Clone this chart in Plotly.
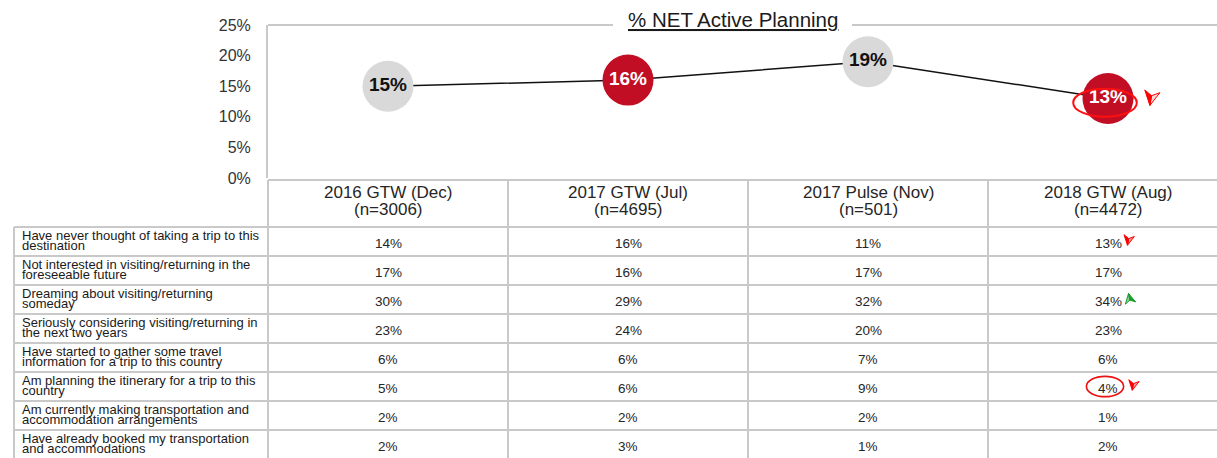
import math
import plotly.graph_objects as go

# ---------------- data ----------------
waves = ["2016 GTW (Dec)", "2017 GTW (Jul)", "2017 Pulse (Nov)", "2018 GTW (Aug)"]
sample_sizes = ["(n=3006)", "(n=4695)", "(n=501)", "(n=4472)"]
net_active = [15, 16, 19, 13]
bubble_colors = ["#d9d9d9", "#c20e25", "#d9d9d9", "#c20e25"]
bubble_text_colors = ["#111111", "#ffffff", "#111111", "#ffffff"]

row_labels_line1 = [
    "Have never thought of taking a trip to this",
    "Not interested in visiting/returning in the",
    "Dreaming about visiting/returning",
    "Seriously considering visiting/returning in",
    "Have started to gather some travel",
    "Am planning the itinerary for a trip to this",
    "Am currently making transportation and",
    "Have already booked my transportation",
]
row_labels_line2 = [
    "destination",
    "foreseeable future",
    "someday",
    "the next two years",
    "information for a trip to this country",
    "country",
    "accommodation arrangements",
    "and accommodations",
]
vals_2016_dec = [14, 17, 30, 23, 6, 5, 2, 2]
vals_2017_jul = [16, 16, 29, 24, 6, 6, 2, 3]
vals_2017_nov = [11, 17, 32, 20, 7, 9, 2, 1]
vals_2018_aug = [13, 17, 34, 23, 6, 4, 1, 2]
table_columns = [vals_2016_dec, vals_2017_jul, vals_2017_nov, vals_2018_aug]

# significance flags for the last wave (row index -> direction)
sig_rows_down = [0, 5]
sig_rows_up = [2]
circled_rows = [5]
chart_sig_down = [3]   # index in net_active

# ---------------- layout geometry ----------------
W, H = 1217, 458
COL_PX = 240.0          # width of one wave column
PLOT_LEFT = 268.0       # left edge of first wave column
PLOT_TOP, PLOT_BOTTOM = 25.0, 178.0
ROW_PX = 29.0
FIRST_ROW_TOP = 227.0
HEADER_TOP = 180.0
LABEL_LEFT = 14.0

GRID = "#c9c9c9"
TXT = "#262626"
FONT = "Liberation Sans, Arial, sans-serif"
NARROW = "Liberation Sans Narrow, Arial Narrow, Liberation Sans, Arial, sans-serif"


def colx(px):
    return (px - PLOT_LEFT) / COL_PX - 0.5


def rowy(px):
    return (px - FIRST_ROW_TOP) / ROW_PX - 0.5


x_right = colx(W)
x_left = colx(0)
n_cols = len(waves)
n_rows = len(row_labels_line1)

shapes = []
annotations = []


def arrow_shapes(xref, yref, xa, ya, scale, angle_deg, color, light):
    """Notched arrowhead, two-tone, drawn in pixel units around an anchor."""
    left = [(0, 7), (-7, -6), (0, -2)]
    right = [(0, 7), (0, -2), (7, -6)]
    a = math.radians(angle_deg)

    def rot(p):
        x, y = p[0] * scale, p[1] * scale
        return (x * math.cos(a) + y * math.sin(a), -x * math.sin(a) + y * math.cos(a))

    out = []
    for pts, fill in ((left, light), (right, color)):
        rp = [rot(p) for p in pts]
        path = "M" + " L".join(f"{x:.2f},{y:.2f}" for x, y in rp) + " Z"
        out.append(dict(type="path", xref=xref, yref=yref, xsizemode="pixel",
                        ysizemode="pixel", xanchor=xa, yanchor=ya, path=path,
                        fillcolor=fill, line=dict(color=color, width=1), layer="above"))
    return out


fig = go.Figure()

# line + bubbles
fig.add_trace(go.Scatter(
    x=list(range(n_cols)), y=net_active,
    mode="lines+markers+text",
    line=dict(color="#111111", width=1.5),
    marker=dict(size=51, color=bubble_colors, line=dict(width=0)),
    text=[f"<b>{v}%</b>" for v in net_active],
    textposition="middle center",
    textfont=dict(family=FONT, size=19, color=bubble_text_colors),
    hoverinfo="skip", showlegend=False, cliponaxis=False,
    xaxis="x", yaxis="y",
))

# chart ellipse + arrow around flagged bubble
for i in chart_sig_down:
    shapes.append(dict(type="circle", xref="x", yref="y",
                       x0=i - 0.145, x1=i + 0.12,
                       y0=net_active[i] - 3.0, y1=net_active[i] + 1.6,
                       line=dict(color="#ff1010", width=2)))
    shapes += arrow_shapes("x", "y", i + 0.18, net_active[i] + 0.1, 1.1, 190, "#ff0000", "#ffd6d6")

# title with broken top border
title_cx = 733.0
annotations.append(dict(text="<u>% NET Active Planning</u>", xref="paper", yref="paper",
                        x=title_cx / W, y=1 - 20.0 / H, showarrow=False,
                        xanchor="center", yanchor="middle",
                        font=dict(family=FONT, size=20.5, color="#1a1a1a")))
top_y = 1 - PLOT_TOP / H
shapes.append(dict(type="line", xref="paper", yref="paper", x0=PLOT_LEFT / W, x1=613.0 / W,
                   y0=top_y, y1=top_y, line=dict(color=GRID, width=2)))
shapes.append(dict(type="line", xref="paper", yref="paper", x0=852.0 / W, x1=1.0,
                   y0=top_y, y1=top_y, line=dict(color=GRID, width=2)))

# ---------------- table ----------------
y_header_top = rowy(HEADER_TOP)
y_bottom = n_rows - 0.5
x_lab = colx(LABEL_LEFT)

shapes.append(dict(type="line", xref="x2", yref="y2", x0=-0.5, x1=x_right,
                   y0=y_header_top, y1=y_header_top, line=dict(color=GRID, width=2)))
for r in range(n_rows + 1):
    shapes.append(dict(type="line", xref="x2", yref="y2", x0=x_lab, x1=x_right,
                       y0=r - 0.5, y1=r - 0.5, line=dict(color=GRID, width=2)))
shapes.append(dict(type="line", xref="x2", yref="y2", x0=x_lab, x1=x_lab,
                   y0=-0.5, y1=y_bottom, line=dict(color=GRID, width=2)))
for c in range(n_cols):
    shapes.append(dict(type="line", xref="x2", yref="y2", x0=c - 0.5, x1=c - 0.5,
                       y0=y_header_top, y1=y_bottom, line=dict(color=GRID, width=2)))

for c in range(n_cols):
    annotations.append(dict(text=waves[c], xref="x2", yref="y2", x=c, y=rowy(192.0),
                            showarrow=False, xanchor="center", yanchor="middle",
                            font=dict(family=FONT, size=17, color=TXT)))
    annotations.append(dict(text=sample_sizes[c], xref="x2", yref="y2", x=c, y=rowy(209.0),
                            showarrow=False, xanchor="center", yanchor="middle",
                            font=dict(family=FONT, size=17, color=TXT)))

for r in range(n_rows):
    annotations.append(dict(text=row_labels_line1[r], xref="x2", yref="y2",
                            x=colx(20.0), y=r - 6.5 / ROW_PX, showarrow=False,
                            xanchor="left", yanchor="middle",
                            font=dict(family=NARROW, size=13, color="#1a1a1a")))
    annotations.append(dict(text=row_labels_line2[r], xref="x2", yref="y2",
                            x=colx(20.0), y=r + 4.0 / ROW_PX, showarrow=False,
                            xanchor="left", yanchor="middle",
                            font=dict(family=NARROW, size=13, color="#1a1a1a")))

for c in range(n_cols):
    for r in range(n_rows):
        annotations.append(dict(text=f"{table_columns[c][r]}%", xref="x2", yref="y2",
                                x=c, y=r + 1.5 / ROW_PX, showarrow=False,
                                xanchor="center", yanchor="middle",
                                font=dict(family=FONT, size=13.5, color=TXT)))

last = n_cols - 1
for r in circled_rows:
    shapes.append(dict(type="circle", xref="x2", yref="y2",
                       x0=last - 0.09, x1=last + 0.065,
                       y0=r - 0.35, y1=r + 0.35,
                       line=dict(color="#ee1111", width=1.6)))

for r in sig_rows_down:
    shapes += arrow_shapes("x2", "y2", last + 0.085 + (0.02 if r in circled_rows else 0),
                           r - 0.05, 0.75, 190, "#ff0000", "#ff9a9a")
for r in sig_rows_up:
    shapes += arrow_shapes("x2", "y2", last + 0.09, r - 0.03, 0.75, -12, "#1a9c2a", "#8fd19a")

fig.update_layout(
    width=W, height=H,
    margin=dict(l=0, r=0, t=0, b=0, autoexpand=False),
    paper_bgcolor="white", plot_bgcolor="rgba(0,0,0,0)",
    showlegend=False,
    xaxis=dict(domain=[PLOT_LEFT / W, 1], range=[-0.5, x_right],
               showgrid=False, zeroline=False, showticklabels=False, ticks="",
               showline=False, anchor="y"),
    yaxis=dict(domain=[1 - PLOT_BOTTOM / H, 1 - PLOT_TOP / H], range=[0, 25],
               dtick=5, ticksuffix="%", showgrid=False, zeroline=False,
               showline=True, linecolor=GRID, linewidth=2, ticks="",
               ticklabelstandoff=12,
               tickfont=dict(family=FONT, size=16, color="#333333"), anchor="x"),
    xaxis2=dict(domain=[0, 1], range=[x_left, x_right], visible=False, anchor="y2"),
    yaxis2=dict(domain=[0, 1], range=[rowy(H), rowy(0)], visible=False, anchor="x2"),
    shapes=shapes,
    annotations=annotations,
)

fig.write_html("out.html", config={"displayModeBar": False},
               post_script="document.body.style.margin='0px';document.body.style.overflow='hidden';")
